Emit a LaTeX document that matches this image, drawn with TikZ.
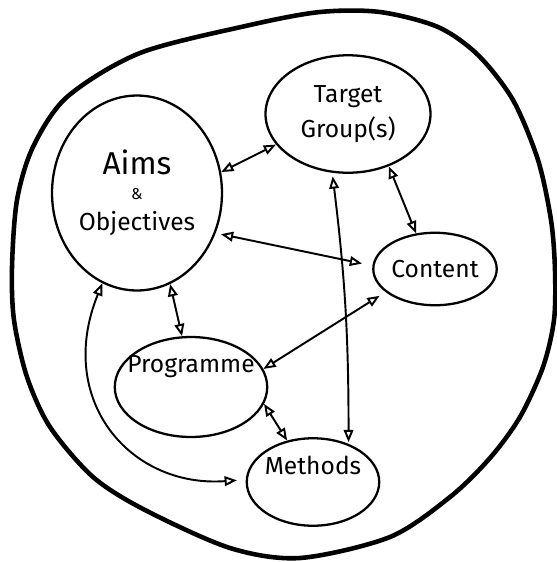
\documentclass[tikz,border=0pt]{standalone}
\usepackage{fontspec}
\setmainfont{Fira Sans}
\usetikzlibrary{shapes.geometric,arrows.meta}
\begin{document}
\begin{tikzpicture}[x=0.02cm,y=-0.02cm,
        part/.style={draw,ellipse,line width=1.3pt,inner sep=0pt,align=center,font=\fontsize{14}{16}\selectfont},
        link/.style={{Triangle[open,length=7pt,width=5.5pt]}-{Triangle[open,length=7pt,width=5.5pt]},line width=1.1pt}]
        \useasboundingbox (0,0) rectangle (557,562);
        % outer boundary
        \draw [line width=2.6pt] plot [smooth cycle] coordinates {(140,53) (67,97) (33,147) (17,200) (12,267) (14,320) (27,377) (50,427) (93,477) (145,510) (230,548) (300,558) (390,537) (450,497) (490,458) (520,417) (543,367) (554,320) (555,270) (551,220) (538,160) (513,100) (478,55) (438,27) (380,12) (320,12) (250,25)};
        \node [part,minimum width=3.4cm,minimum height=3.9cm] (aims) at (137,193) {{\fontsize{18}{18}\selectfont Aims}\\[-2pt]{\small\&}\\[2pt]Objectives};
        \node [part,minimum width=3.3cm,minimum height=2.35cm,inner sep=-4pt] (target) at (348,114) {Target\\[4pt]Group(s)};
        \node [part,minimum width=2.3cm,minimum height=1.45cm] (content) at (435,269) {Content};
        \node [part,minimum width=3.05cm,minimum height=2cm,inner xsep=-10pt,inner ysep=-8pt] (prog) at (191,387) {Programme\\[10pt]};
        \node [part,minimum width=2.65cm,minimum height=1.75cm,inner xsep=-6pt,inner ysep=-4pt] (meth) at (313,482) {Methods\\[3pt]};
        % links
        \draw [link] (aims.14) -- (target.203);
        \draw [link,shorten <=3pt,shorten >=6pt] (aims.-27) -- (content.177);
        \draw [link] (target.-52) -- (content.118);
        \draw [link,shorten <=2pt,shorten >=1pt] (target.255) to [out=-83,in=90] (meth.47);
        \draw [link] (aims.-70) -- (prog.100);
        \draw [link,shorten >=4pt] (prog.14) -- (content.205);
        \draw [link] (prog.-13) -- (meth.122);
        \draw [link,shorten >=5pt] (aims.-111) .. controls (55,400) and (130,488) .. (meth.178);
\end{tikzpicture}
\end{document}
